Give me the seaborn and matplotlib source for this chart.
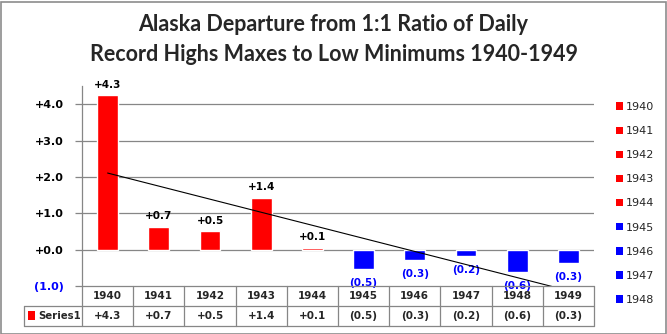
import numpy as np
import matplotlib
matplotlib.use("Agg")
import matplotlib.pyplot as plt
import seaborn as sns
from matplotlib.patches import Rectangle
from matplotlib.lines import Line2D

years = ["1940", "1941", "1942", "1943", "1944", "1945", "1946", "1947", "1948", "1949"]
values = [4.25, 0.63, 0.50, 1.42, 0.05, -0.52, -0.28, -0.18, -0.62, -0.36]
labels = ["+4.3", "+0.7", "+0.5", "+1.4", "+0.1", "(0.5)", "(0.3)", "(0.2)", "(0.6)", "(0.3)"]
yticks = [-1, 0, 1, 2, 3, 4]
ytick_labels = ["(1.0)", "+0.0", "+1.0", "+2.0", "+3.0", "+4.0"]
title = "Alaska Departure from 1:1 Ratio of Daily\nRecord Highs Maxes to Low Minimums 1940-1949"
series_name = "Series1"

RED = "#FF0000"
BLUE = "#0000FF"
GRID = "#868686"
colors = [RED if v >= 0 else BLUE for v in values]

sns.set_theme(style="white")
plt.rcParams["font.family"] = ["DejaVu Sans"]

W, H = 667, 334
fig = plt.figure(figsize=(W / 100, H / 100), dpi=100)
fig.patch.set_facecolor("white")
fig.patches.append(Rectangle((0.5 / W, 0.5 / H), (W - 2) / W, (H - 2) / H,
                             transform=fig.transFigure, fill=False,
                             edgecolor="#8c8c8c", linewidth=1.2))

def fx(px):
    return px / W

def fy(py):
    return 1 - py / H

left, right, top, bottom = 82, 594, 86, 286
ax = fig.add_axes([fx(left), fy(bottom), (right - left) / W, (bottom - top) / H])

sns.barplot(x=years, y=values, hue=years, palette=colors, width=0.41,
            dodge=False, legend=False, ax=ax, saturation=1)

ax.set_ylim(-1, 4.5)
ax.set_xlim(-0.5, 9.5)
ax.set_yticks(yticks)
ax.set_yticklabels(ytick_labels, fontweight="bold", fontsize=8)
for t, lab in zip(ax.get_yticklabels(), ytick_labels):
    t.set_color(BLUE if lab.startswith("(") else "black")
ax.tick_params(axis="y", direction="out", length=5, width=0.9, color=GRID, pad=8, left=True)
ax.set_xticks([])
ax.set_xlabel("")
ax.set_ylabel("")
for y in yticks[1:]:
    ax.axhline(y, color=GRID, linewidth=0.9, zorder=0)
for s in ["top", "right", "bottom"]:
    ax.spines[s].set_visible(False)
ax.spines["left"].set_color(GRID)
ax.spines["left"].set_linewidth(0.9)

# trend line (linear fit)
xs = np.arange(len(values))
m, b = np.polyfit(xs, values, 1)
ax.plot(xs, m * xs + b, color="black", linewidth=0.8, zorder=5)

# data labels
for i, (v, lab) in enumerate(zip(values, labels)):
    if v >= 0:
        ax.annotate(lab, (i, v), xytext=(0, 4), textcoords="offset points",
                    ha="center", va="bottom", fontsize=7.5, fontweight="bold", color="black")
    else:
        ax.annotate(lab, (i, v), xytext=(0, -6.5), textcoords="offset points",
                    ha="center", va="top", fontsize=7.5, fontweight="bold", color=BLUE,
                    annotation_clip=False)

# title
fig.text(0.5, fy(39.5), title, ha="center", va="center", fontsize=15.5,
         fontweight="bold", family=["Lato", "DejaVu Sans"], linespacing=1.5)

# data table
colw = (right - left) / len(years)
r0, r1, r2 = 286, 306, 326
tl = 24
lines = [
    ((left, right), (r0, r0)),
    ((tl, right), (r1, r1)),
    ((tl, right), (r2, r2)),
    ((tl, tl), (r1, r2)),
]
for i in range(len(years) + 1):
    x = left + i * colw
    lines.append(((x, x), (r0, r2)))
for (xa, xb), (ya, yb) in lines:
    fig.add_artist(Line2D([fx(xa), fx(xb)], [fy(ya), fy(yb)], color=GRID, linewidth=0.9))
for i, (yr, lab) in enumerate(zip(years, labels)):
    cx = left + (i + 0.5) * colw
    fig.text(fx(cx), fy((r0 + r1) / 2), yr, ha="center", va="center",
             fontsize=7.5, fontweight="bold")
    fig.text(fx(cx), fy((r1 + r2) / 2), lab, ha="center", va="center",
             fontsize=7.5, fontweight="bold")
fig.patches.append(Rectangle((fx(28), fy(320)), 7 / W, 9 / H, transform=fig.transFigure,
                             facecolor=RED, edgecolor="none"))
fig.text(fx(38), fy((r1 + r2) / 2), series_name, ha="left", va="center",
         fontsize=7.3, fontweight="bold")

# legend (first nine entries shown)
handles = [Rectangle((0, 0), 1, 1, facecolor=c, edgecolor="none") for c in colors[:9]]
leg = fig.legend(handles, years[:9], loc="upper left",
                 bbox_to_anchor=(fx(610), fy(96.5)), frameon=False, fontsize=8,
                 handlelength=0.65, handleheight=0.65, handletextpad=0.3,
                 labelspacing=1.27, borderpad=0)

fig.savefig("out.png", dpi=100, facecolor="white")
